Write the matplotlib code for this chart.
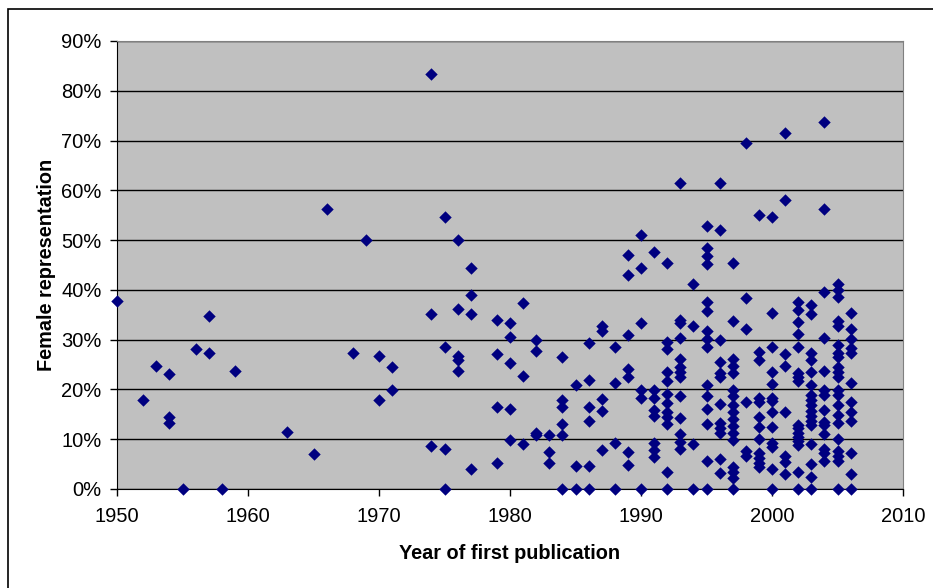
import matplotlib
matplotlib.use("Agg")
import matplotlib.pyplot as plt
from matplotlib.patches import Rectangle
from matplotlib.ticker import FuncFormatter

plt.rcParams['font.family'] = ['Liberation Sans', 'DejaVu Sans']

# año de primera publicación y % de representación femenina
first_year = [1950, 1952, 1953, 1954, 1955, 1956, 1957, 1958, 1959, 1963, 1965,
              1966, 1968, 1969, 1970, 1971, 1974, 1975, 1976, 1977, 1979, 1980,
              1981, 1982, 1983, 1984, 1985, 1986, 1987, 1988, 1989, 1990, 1991,
              1992, 1993, 1994, 1995, 1996, 1997, 1998, 1999, 2000, 2001, 2002,
              2003, 2004, 2005, 2006]

pct_by_year = [
    [37.7],
    [17.9],
    [24.8],
    [23.2, 14.4, 13.2],
    [0],
    [28.1],
    [34.7, 27.4],
    [0],
    [23.8],
    [11.4],
    [7.1],
    [56.2],
    [27.4],
    [50.0],
    [26.8, 17.9],
    [24.6, 19.8],
    [83.3, 35.2, 8.7],
    [54.7, 28.5, 8.1, 0],
    [50.0, 36.2, 26.8, 26.0, 23.8],
    [44.4, 38.9, 35.2, 4.0],
    [34.0, 27.2, 16.4, 5.3],
    [33.4, 30.5, 25.3, 16.0, 9.9],
    [37.4, 22.8, 9.0],
    [30.0, 27.8, 11.2, 10.9],
    [10.9, 7.4, 5.3],
    [26.6, 17.8, 16.4, 13.0, 10.9, 0],
    [20.9, 4.6, 0],
    [29.3, 21.9, 16.4, 13.6, 4.6, 0],
    [32.7, 31.7, 18.1, 15.7, 7.9],
    [28.5, 21.3, 9.3, 0],
    [47.0, 42.9, 31.0, 24.2, 22.5, 7.5, 4.8],
    [51.0, 44.4, 33.3, 19.9, 18.2, 0],
    [47.6, 19.9, 18.2, 15.8, 14.6, 9.2, 7.85, 6.5],
    [45.4, 29.5, 28.1, 23.6, 21.6, 19.1, 17.2, 15.4, 14.4, 13.0, 3.5, 0],
    [61.5, 34.0, 33.3, 30.3, 26.1, 24.6, 23.6, 22.6, 18.6, 14.2, 11.0, 9.5, 8.0],
    [41.2, 32.7, 9.1, 0],
    [52.8, 48.4, 46.8, 45.3, 37.5, 35.8, 31.7, 30.2, 28.5, 20.8, 18.6, 16.0,
     13.0, 5.6, 0],
    [61.5, 52.1, 30.0, 25.6, 23.4, 22.6, 17.1, 13.2, 12.2, 11.2, 6.0, 3.2],
    [45.4, 33.7, 26.1, 24.8, 23.4, 19.9, 18.6, 16.9, 15.4, 14.1, 12.75, 11.3,
     9.9, 4.5, 3.5, 2.15, 0],
    [69.5, 38.3, 32.1, 17.4, 7.65, 6.6],
    [55.0, 27.6, 26.0, 18.2, 17.4, 14.4, 12.5, 10.0, 7.2, 6.2, 5.3, 4.4],
    [54.7, 35.4, 28.5, 23.5, 21.1, 18.2, 17.6, 15.4, 12.4, 9.2, 8.4, 4.0, 0],
    [71.6, 58.0, 27.2, 24.8, 15.4, 6.6, 5.5, 3.1],
    [37.5, 36.0, 33.5, 31.1, 28.5, 23.3, 22.5, 21.6, 12.9, 12.2, 11.3, 10.5,
     9.7, 8.9, 3.5, 0],
    [37.0, 35.2, 27.3, 26.0, 23.5, 20.9, 18.9, 17.9, 16.9, 15.6, 14.6, 13.6,
     12.9, 9.1, 5.0, 2.5, 0],
    [73.8, 56.2, 39.5, 30.3, 23.8, 19.9, 18.9, 15.8, 13.5, 12.9, 11.0, 8.0,
     7.2, 5.7],
    [41.1, 39.9, 38.6, 33.7, 32.8, 29.0, 27.3, 26.6, 24.5, 23.6, 22.6, 19.9,
     18.9, 16.8, 14.9, 13.2, 10.0, 7.7, 6.6, 5.7, 0],
    [35.4, 32.2, 30.1, 28.3, 27.3, 21.3, 17.4, 15.4, 13.6, 7.2, 3.1, 0],
]

x_ticks = [1950, 1960, 1970, 1980, 1990, 2000, 2010]
y_ticks = [0, 10, 20, 30, 40, 50, 60, 70, 80, 90]

# aplanar a pares (año, valor)
xs, ys = [], []
for yr, vals in zip(first_year, pct_by_year):
    for v in vals:
        xs.append(yr)
        ys.append(v)

fig = plt.figure(figsize=(9.33, 5.88), dpi=100)
ax = fig.add_axes([117 / 933, 1 - 489 / 588, (903 - 117) / 933, (489 - 41) / 588])
ax.set_facecolor('#C0C0C0')

# marco exterior del gráfico (solo se ven izquierda y arriba)
fig.patches.append(Rectangle((8 / 933, -0.05), 1.2, 1 - 9 / 588 + 0.05,
                             transform=fig.transFigure, fill=False,
                             edgecolor='#000000', linewidth=1.2))

ax.grid(True, axis='y', color='black', linewidth=1)
ax.set_axisbelow(True)
ax.scatter(xs, ys, marker='D', s=40, color='#000080', linewidths=0, zorder=3,
           clip_on=False)

ax.set_xlim(1950, 2010)
ax.set_ylim(0, 90)
ax.set_xticks(x_ticks)
ax.set_yticks(y_ticks)
ax.yaxis.set_major_formatter(FuncFormatter(lambda v, p: f"{v:.0f}%"))
ax.tick_params(axis='both', direction='out', length=5, width=1, labelsize=14.5,
               colors='black', pad=6)
ax.tick_params(axis='x', pad=8)

for side in ['top', 'right']:
    ax.spines[side].set_color('#808080')
for side in ['left', 'bottom']:
    ax.spines[side].set_color('black')

ax.set_xlabel("Year of first publication", fontsize=14.3, fontweight='bold', labelpad=13)
ax.set_ylabel("Female representation", fontsize=14.3, fontweight='bold', labelpad=4)

fig.savefig("out.png", dpi=100)
